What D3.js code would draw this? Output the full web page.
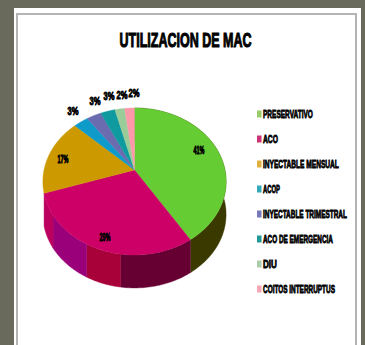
<!DOCTYPE html>
<html>
<head>
<meta charset="utf-8">
<script src="https://cdn.jsdelivr.net/npm/d3@7/dist/d3.min.js"></script>
<style>
html,body{margin:0;padding:0;background:#6a6a5c;}
svg{display:block;}
text{font-family:"Liberation Sans",sans-serif;font-weight:700;fill:#000;stroke:#000;}
</style>
</head>
<body>
<svg id="chart" width="365" height="345"></svg>
<script>
const categories = ["PRESERVATIVO","ACO","INYECTABLE MENSUAL","ACOP","INYECTABLE TRIMESTRAL","ACO DE EMERGENCIA","DIU","COITOS INTERRUPTUS"];
const shares = [41,29,17,3,3,3,2,2];
const topColors = ["#66cc33","#cc0066","#cc9900","#0f9bc9","#6b6bb0","#0f9a9f","#99cc99","#ff99aa"];
const legendColors = ["#99cc66","#cc3377","#e0b040","#33aabb","#7777bb","#229999","#aaccaa","#f5a5b5"];
const wallBands = [[0,147.6,"#3a3a00"],[147.6,187.5,"#660033"],[187.5,207,"#a80038"],[207,235,"#99007a"],[235,252,"#bb0060"]];

const svg = d3.select("#chart");
svg.append("rect").attr("x",14).attr("y",8).attr("width",347).attr("height",337).attr("fill","#fff");
svg.append("path").attr("d","M17,345V14H356V345").attr("fill","none").attr("stroke","#b4b4b4").attr("stroke-width",2);

const cx = 134.5, cy = 170, rx = 90.5, ry = 71.7, tilt = 0.156, depth = 33;
// Perspective projection of a point on the pie's disc; angle runs clockwise from 12 o'clock.
const project = (deg, r = 1, drop = 0) => {
  const a = deg * Math.PI / 180, u = r * Math.sin(a), v = -r * Math.cos(a), w = 1 - tilt * v;
  return [cx + rx * u / w, cy + ry * v / w + drop];
};
const arcPts = (a0, a1, drop) => d3.range(0, 41).map(i => project(a0 + (a1 - a0) * i / 40, 1, drop));
const line = d3.line();

const pie = d3.pie().sort(null)(shares);
const deg = r => r * 180 / Math.PI;

wallBands.forEach(([a0, a1, c]) => {
  const pts = arcPts(a0, a1, 0).concat(arcPts(a1, a0, depth));
  svg.append("path").attr("d", line(pts) + "Z").attr("fill", c).attr("stroke", c).attr("stroke-width", .4);
});

pie.forEach((d, i) => {
  const pts = [[cx, cy]].concat(arcPts(deg(d.startAngle), deg(d.endAngle), 0));
  svg.append("path").attr("d", line(pts) + "Z").attr("fill", topColors[i]).attr("stroke", topColors[i]).attr("stroke-width", .4);
});

// Heavy text squeezed horizontally until it fills the given width.
const squeezed = (x, y, str, size, width, weight, anchor) => {
  const t = svg.append("text").attr("text-anchor", anchor).attr("font-size", size).attr("stroke-width", weight).text(str);
  const sx = width / t.node().getComputedTextLength();
  t.attr("transform", `translate(${x},${y}) scale(${sx},1)`);
};

// Percentage labels: the first three sit on the slices, the rest outside the rim.
const labelPos = [[199,154],[105,241],[63,163],[73,115],[95,105],[109,100],[122,99],[134,97]];
shares.forEach((v, i) => squeezed(labelPos[i][0], labelPos[i][1], v + "%", 10, 11, .8, "middle"));

squeezed(185.5, 47, "UTILIZACION DE MAC", 21, 132, 1.1, "middle");

const legendY = d3.scalePoint().domain(categories).range([114,289]);
const legendWidths = [50,15,76,17,84,70,14,72];
categories.forEach((c, i) => {
  const y = legendY(c);
  svg.append("rect").attr("x",257).attr("y",y-3.5).attr("width",4.5).attr("height",7).attr("fill",legendColors[i]);
  squeezed(263, y + 4, c, 11, legendWidths[i], .8, "start");
});
</script>
</body>
</html>
